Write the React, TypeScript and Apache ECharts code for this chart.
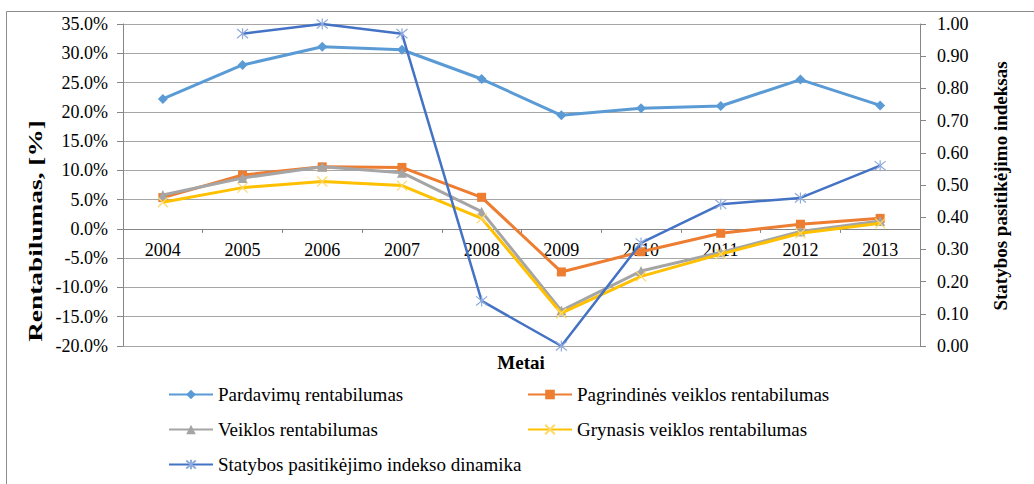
import React, { useEffect, useRef } from "react";
import * as echarts from "echarts";

const years = ["2004", "2005", "2006", "2007", "2008", "2009", "2010", "2011", "2012", "2013"];
const pardavimu = [22.2, 28.0, 31.1, 30.6, 25.6, 19.4, 20.6, 21.0, 25.5, 21.1];
const pagrindines = [5.35, 9.2, 10.6, 10.5, 5.4, -7.35, -3.9, -0.75, 0.8, 1.8];
const veiklos = [5.8, 8.7, 10.6, 9.6, 2.95, -13.95, -7.2, -4.0, -0.45, 1.35];
const grynasis = [4.55, 7.05, 8.1, 7.4, 1.8, -14.4, -8.1, -4.3, -0.75, 0.95];
const statybos = [null, 0.97, 1.0, 0.97, 0.14, 0.0, 0.32, 0.44, 0.46, 0.56];

const names = [
  "Pardavimų rentabilumas",
  "Pagrindinės veiklos rentabilumas",
  "Veiklos rentabilumas",
  "Grynasis veiklos rentabilumas",
  "Statybos pasitikėjimo indekso dinamika",
];

const FONT = "Liberation Serif";

export default function App() {
  const ref = useRef<HTMLDivElement>(null);
  useEffect(() => {
    document.body.style.margin = "0";
    const chart = echarts.init(ref.current!, undefined, { renderer: "svg" });
    const xMark = "path://M0,0L10,10M10,0L0,10";
    const star = "path://M0,0L10,10M10,0L0,10M5,-1L5,11";
    const gridTop = 24;
    const gridBottom = 138;
    const plotH = 484 - gridTop - gridBottom;
    const zeroOffset = -(plotH * 20) / 55;
    const option: any = {
      animation: false,
      backgroundColor: "#fff",
      textStyle: { fontFamily: FONT, color: "#000" },
      grid: { left: 123, right: 114, top: gridTop, bottom: gridBottom, containLabel: false },
      legend: [
        {
          orient: "vertical",
          left: 168,
          top: 385,
          padding: 0,
          itemWidth: 44,
          itemHeight: 12,
          itemGap: 16,
          data: [names[0], names[2], names[4]],
          textStyle: { fontFamily: FONT, fontSize: 19, color: "#000" },
        },
        {
          orient: "vertical",
          left: 527,
          top: 385,
          padding: 0,
          itemWidth: 44,
          itemHeight: 12,
          itemGap: 16,
          data: [names[1], names[3]],
          textStyle: { fontFamily: FONT, fontSize: 19, color: "#000" },
        },
      ],
      xAxis: {
        type: "category",
        data: years,
        position: "bottom",
        offset: zeroOffset,
        boundaryGap: true,
        axisLine: { onZero: false, lineStyle: { color: "#868686", width: 1 } },
        axisTick: { show: true, length: 4, interval: 0, lineStyle: { color: "#868686" } },
        axisLabel: { interval: 0, margin: 12, fontFamily: FONT, fontSize: 18, color: "#000" },
        splitLine: { show: false },
      },
      yAxis: [
        {
          type: "value",
          min: -20,
          max: 35,
          interval: 5,
          axisLine: { show: true, onZero: false, lineStyle: { color: "#868686" } },
          axisTick: { show: true, length: 6, lineStyle: { color: "#868686" } },
          axisLabel: {
            margin: 15,
            fontFamily: FONT,
            fontSize: 18,
            color: "#000",
            formatter: (v: number) => v.toFixed(1) + "%",
          },
          splitLine: { show: true, lineStyle: { color: "#a6a6a6", width: 1 } },
        },
        {
          type: "value",
          min: 0,
          max: 1,
          interval: 0.1,
          position: "right",
          axisLine: { show: true, onZero: false, lineStyle: { color: "#868686" } },
          axisTick: { show: true, length: 6, lineStyle: { color: "#868686" } },
          axisLabel: {
            margin: 17,
            fontFamily: FONT,
            fontSize: 18,
            color: "#000",
            formatter: (v: number) => v.toFixed(2),
          },
          splitLine: { show: false },
        },
      ],
      series: [
        {
          name: names[0],
          type: "line",
          data: pardavimu,
          symbol: "diamond",
          symbolSize: 10,
          lineStyle: { color: "#5B9BD5", width: 3 },
          itemStyle: { color: "#5B9BD5" },
          z: 2,
        },
        {
          name: names[1],
          type: "line",
          data: pagrindines,
          symbol: "rect",
          symbolSize: 9,
          lineStyle: { color: "#ED7D31", width: 3 },
          itemStyle: { color: "#ED7D31" },
          z: 3,
        },
        {
          name: names[2],
          type: "line",
          data: veiklos,
          symbol: "triangle",
          symbolSize: 10,
          lineStyle: { color: "#A5A5A5", width: 3 },
          itemStyle: { color: "#A5A5A5" },
          z: 4,
        },
        {
          name: names[3],
          type: "line",
          data: grynasis,
          symbol: xMark,
          symbolSize: 10,
          lineStyle: { color: "#FFC000", width: 3 },
          itemStyle: { color: "none", borderColor: "#FFD966", borderWidth: 1.2 },
          z: 5,
        },
        {
          name: names[4],
          type: "line",
          yAxisIndex: 1,
          data: statybos,
          connectNulls: false,
          symbol: star,
          symbolSize: 11,
          lineStyle: { color: "#4472C4", width: 2.5 },
          itemStyle: { color: "none", borderColor: "#8FAADC", borderWidth: 1.2 },
          z: 6,
        },
      ],
      graphic: [
        {
          type: "rect",
          silent: true,
          shape: { x: 6.5, y: 11.5, width: 1100, height: 600 },
          style: { fill: "none", stroke: "#8c8c8c", lineWidth: 1 },
          z: -1,
        },
        {
          type: "text",
          x: 36,
          y: 231,
          rotation: Math.PI / 2,
          scaleX: 1.52,
          style: {
            text: "Rentabilumas, [%]",
            fontFamily: FONT,
            fontSize: 18,
            fontWeight: "bold",
            fill: "#000",
            align: "center",
            verticalAlign: "middle",
          },
        },
        {
          type: "text",
          x: 1000,
          y: 186,
          rotation: Math.PI / 2,
          style: {
            text: "Statybos pasitikėjimo indeksas",
            fontFamily: FONT,
            fontSize: 19,
            fontWeight: "bold",
            fill: "#000",
            align: "center",
            verticalAlign: "middle",
          },
        },
        {
          type: "text",
          x: 521,
          y: 362,
          style: {
            text: "Metai",
            fontFamily: FONT,
            fontSize: 19,
            fontWeight: "bold",
            fill: "#000",
            align: "center",
            verticalAlign: "middle",
          },
        },
      ],
    };
    chart.setOption(option);
    return () => chart.dispose();
  }, []);
  return <div ref={ref} style={{ width: 1034, height: 484 }} />;
}
